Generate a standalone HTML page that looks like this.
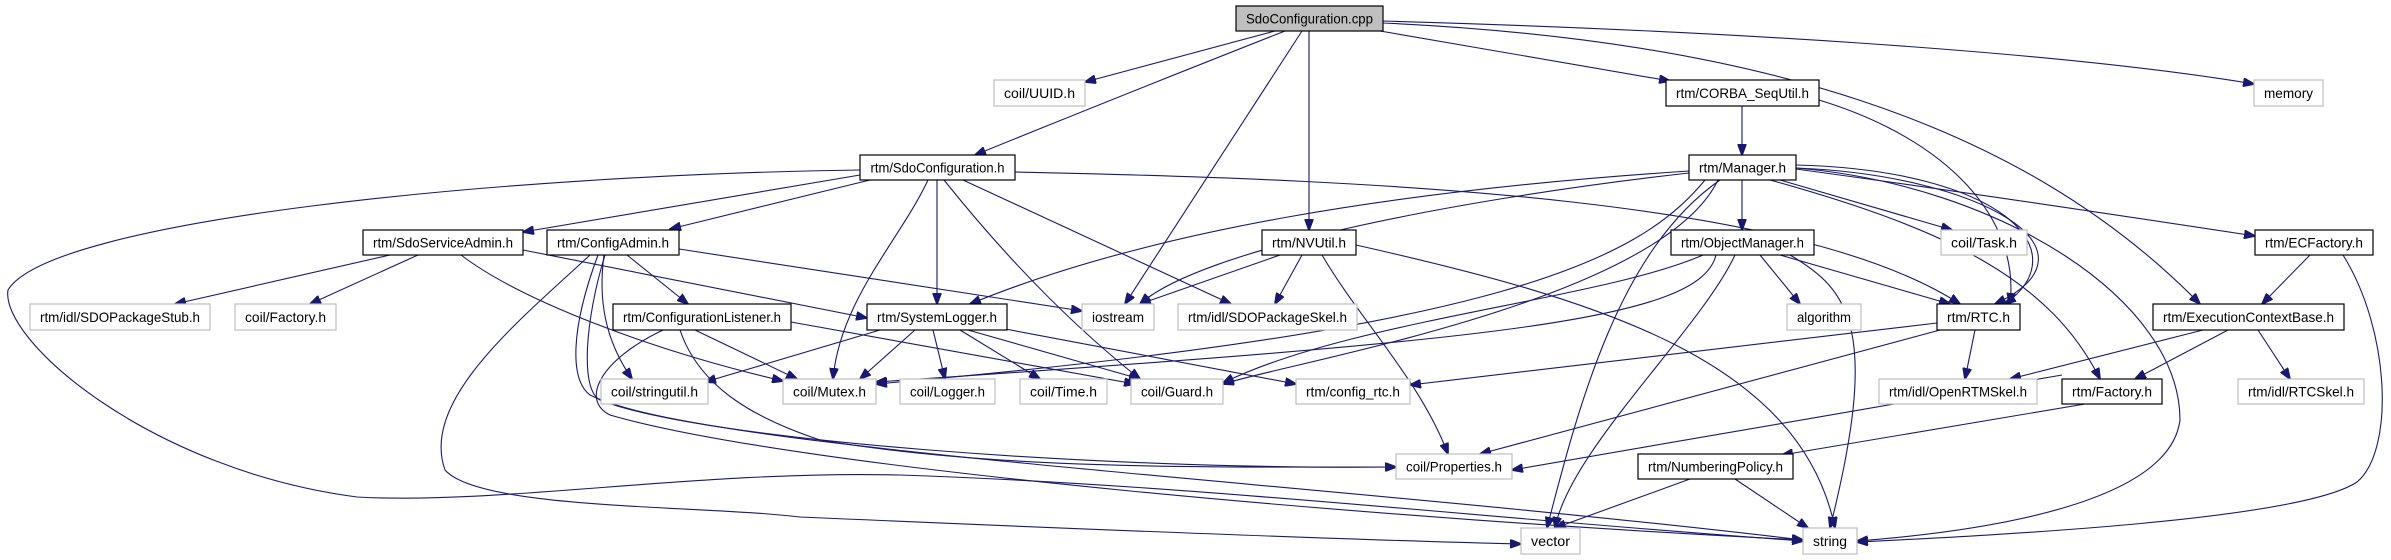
<!DOCTYPE html>
<html><head><meta charset="utf-8"><style>
html,body{margin:0;padding:0;background:#fff}
svg{display:block}
text{font-family:"Liberation Sans",sans-serif;font-size:14px;fill:#000}
.n rect{fill:#fff;stroke:#000;stroke-width:1.2}
.g rect{fill:#fff;stroke:#bfbfbf;stroke-width:1.2}
.e path{fill:none;stroke:#191970;stroke-width:1.1;marker-end:url(#ah)}
</style></head><body>
<svg width="2391" height="560" viewBox="0 0 2391 560" xmlns="http://www.w3.org/2000/svg">
<defs><marker id="ah" markerUnits="userSpaceOnUse" markerWidth="12" markerHeight="9" refX="11" refY="4.5" orient="auto"><path d="M0,0 L12,4.5 L0,9 z" fill="#191970" stroke="#191970"/></marker></defs>
<g class="e">
<path d="M1275,31 L1085,82"/>
<path d="M1285,31 Q1110,100 975,155"/>
<path d="M1302,31 L1125,304"/>
<path d="M1309,31 L1309,230"/>
<path d="M1380,31 L1670,81"/>
<path d="M1383,21 C1700,30 2050,50 2254,84"/>
<path d="M1383,23 C1750,40 2020,120 2200,304"/>
<path d="M860,175 L523,232"/>
<path d="M870,180 L670,229"/>
<path d="M860,170 C500,175 50,220 8,290 C0,340 150,470 357,497 C500,505 700,470 900,475 C1200,485 1500,520 1803,541"/>
<path d="M1015,172 C1400,180 1800,200 1960,304"/>
<path d="M937,180 L937,304"/>
<path d="M928,180 C900,240 840,300 833,379"/>
<path d="M944,180 Q1040,300 1140,379"/>
<path d="M963,180 L1231,304"/>
<path d="M390,255 L175,304"/>
<path d="M418,255 L310,304"/>
<path d="M461,255 C520,300 650,350 783,381"/>
<path d="M523,250 L867,318"/>
<path d="M627,255 L688,304"/>
<path d="M604,255 C598,300 605,340 632,379"/>
<path d="M679,249 L1082,311"/>
<path d="M590,255 C520,320 420,400 445,470 C480,510 700,505 800,517 C1100,530 1350,540 1521,544"/>
<path d="M598,255 C570,330 570,380 590,395 C700,450 1300,480 1803,540"/>
<path d="M605,255 C585,320 580,390 600,400 C700,440 1100,470 1396,467"/>
<path d="M695,330 L797,379"/>
<path d="M791,322 L1135,384"/>
<path d="M680,330 C700,390 760,420 820,440 C1000,470 1200,467 1396,467"/>
<path d="M663,330 C600,360 580,400 610,415 C800,470 1400,520 1803,540"/>
<path d="M880,330 L705,382"/>
<path d="M915,330 L860,379"/>
<path d="M933,330 L945,379"/>
<path d="M960,330 L1040,379"/>
<path d="M968,330 L1140,379"/>
<path d="M1000,328 L1296,384"/>
<path d="M1280,255 L1140,304"/>
<path d="M1302,255 L1275,304"/>
<path d="M1322,255 C1360,320 1420,380 1448,454"/>
<path d="M1356,245 C1600,300 1800,360 1835,528"/>
<path d="M1742,106 L1742,155"/>
<path d="M1819,100 C1950,140 2020,220 2010,304"/>
<path d="M1689,171 C1400,190 1150,230 970,304"/>
<path d="M1689,173 C1450,200 1200,250 1140,304"/>
<path d="M1705,180 C1640,260 1500,330 876,384"/>
<path d="M1718,180 C1660,300 1300,360 1223,384"/>
<path d="M1742,180 L1742,230"/>
<path d="M1780,180 L1952,230"/>
<path d="M1796,169 C1950,190 2150,220 2255,236"/>
<path d="M1796,165 C2000,170 2080,250 2005,304"/>
<path d="M1796,168 C1980,175 2110,250 1995,304"/>
<path d="M1770,180 C1950,230 2050,280 2100,379"/>
<path d="M1720,180 C1620,250 1580,400 1547,528"/>
<path d="M1796,168 C2000,185 2180,300 2180,420 C2170,500 2000,530 1857,541"/>
<path d="M2343,255 C2390,330 2395,450 2357,482 C2300,520 2000,535 1857,542"/>
<path d="M2310,255 L2262,304"/>
<path d="M2203,330 L2010,379"/>
<path d="M2228,330 L2135,379"/>
<path d="M2258,330 L2290,379"/>
<path d="M1975,330 L1965,379"/>
<path d="M1937,323 L1410,385"/>
<path d="M1940,330 L1480,454"/>
<path d="M2062,375 L1512,470"/>
<path d="M2085,404 L1782,455"/>
<path d="M1690,479 L1555,528"/>
<path d="M1735,479 L1808,528"/>
<path d="M1716,255 C1700,320 1500,340 876,382"/>
<path d="M1703,255 C1600,300 1350,320 1223,383"/>
<path d="M1760,255 L1800,304"/>
<path d="M1780,255 L1950,304"/>
<path d="M1735,255 C1700,330 1570,450 1555,528"/>
<path d="M1790,255 C1850,290 1880,330 1830,528"/>
</g>
<g class="n"><rect x="1236" y="6" width="147" height="25" style="fill:#bfbfbf"/><text x="1309.5" y="23.5" text-anchor="middle" textLength="127" lengthAdjust="spacingAndGlyphs">SdoConfiguration.cpp</text></g>
<g class="g"><rect x="994" y="80" width="91" height="26"/><text x="1039.5" y="98" text-anchor="middle" textLength="71" lengthAdjust="spacingAndGlyphs">coil/UUID.h</text></g>
<g class="n"><rect x="860" y="155" width="155" height="25"/><text x="937.5" y="172.5" text-anchor="middle" textLength="134" lengthAdjust="spacingAndGlyphs">rtm/SdoConfiguration.h</text></g>
<g class="n"><rect x="1262" y="230" width="94" height="25"/><text x="1309" y="247.5" text-anchor="middle" textLength="74" lengthAdjust="spacingAndGlyphs">rtm/NVUtil.h</text></g>
<g class="n"><rect x="1666" y="80" width="153" height="26"/><text x="1742.5" y="98" text-anchor="middle" textLength="133" lengthAdjust="spacingAndGlyphs">rtm/CORBA_SeqUtil.h</text></g>
<g class="g"><rect x="2254" y="80" width="69" height="26"/><text x="2288.5" y="98" text-anchor="middle" textLength="49" lengthAdjust="spacingAndGlyphs">memory</text></g>
<g class="n"><rect x="1689" y="155" width="107" height="25"/><text x="1742.5" y="172.5" text-anchor="middle" textLength="87" lengthAdjust="spacingAndGlyphs">rtm/Manager.h</text></g>
<g class="n"><rect x="1671" y="230" width="143" height="25"/><text x="1742.5" y="247.5" text-anchor="middle" textLength="123" lengthAdjust="spacingAndGlyphs">rtm/ObjectManager.h</text></g>
<g class="g"><rect x="1941" y="230" width="86" height="25"/><text x="1984" y="247.5" text-anchor="middle" textLength="66" lengthAdjust="spacingAndGlyphs">coil/Task.h</text></g>
<g class="n"><rect x="2255" y="230" width="118" height="25"/><text x="2314" y="247.5" text-anchor="middle" textLength="98" lengthAdjust="spacingAndGlyphs">rtm/ECFactory.h</text></g>
<g class="n"><rect x="363" y="230" width="160" height="25"/><text x="443" y="247.5" text-anchor="middle" textLength="140" lengthAdjust="spacingAndGlyphs">rtm/SdoServiceAdmin.h</text></g>
<g class="n"><rect x="547" y="230" width="132" height="25"/><text x="613" y="247.5" text-anchor="middle" textLength="112" lengthAdjust="spacingAndGlyphs">rtm/ConfigAdmin.h</text></g>
<g class="g"><rect x="30" y="304" width="180" height="26"/><text x="120" y="322" text-anchor="middle" textLength="160" lengthAdjust="spacingAndGlyphs">rtm/idl/SDOPackageStub.h</text></g>
<g class="g"><rect x="235" y="304" width="101" height="26"/><text x="285.5" y="322" text-anchor="middle" textLength="81" lengthAdjust="spacingAndGlyphs">coil/Factory.h</text></g>
<g class="n"><rect x="613" y="304" width="178" height="26"/><text x="702" y="322" text-anchor="middle" textLength="158" lengthAdjust="spacingAndGlyphs">rtm/ConfigurationListener.h</text></g>
<g class="n"><rect x="867" y="304" width="140" height="26"/><text x="937" y="322" text-anchor="middle" textLength="120" lengthAdjust="spacingAndGlyphs">rtm/SystemLogger.h</text></g>
<g class="g"><rect x="1082" y="304" width="72" height="26"/><text x="1118" y="322" text-anchor="middle" textLength="52" lengthAdjust="spacingAndGlyphs">iostream</text></g>
<g class="g"><rect x="1178" y="304" width="179" height="26"/><text x="1267.5" y="322" text-anchor="middle" textLength="159" lengthAdjust="spacingAndGlyphs">rtm/idl/SDOPackageSkel.h</text></g>
<g class="g"><rect x="1787" y="304" width="74" height="26"/><text x="1824" y="322" text-anchor="middle" textLength="54" lengthAdjust="spacingAndGlyphs">algorithm</text></g>
<g class="n"><rect x="1937" y="304" width="83" height="26"/><text x="1978.5" y="322" text-anchor="middle" textLength="63" lengthAdjust="spacingAndGlyphs">rtm/RTC.h</text></g>
<g class="n"><rect x="2153" y="304" width="191" height="26"/><text x="2248.5" y="322" text-anchor="middle" textLength="171" lengthAdjust="spacingAndGlyphs">rtm/ExecutionContextBase.h</text></g>
<g class="g"><rect x="601" y="379" width="107" height="25"/><text x="654.5" y="396.5" text-anchor="middle" textLength="87" lengthAdjust="spacingAndGlyphs">coil/stringutil.h</text></g>
<g class="g"><rect x="783" y="379" width="93" height="25"/><text x="829.5" y="396.5" text-anchor="middle" textLength="73" lengthAdjust="spacingAndGlyphs">coil/Mutex.h</text></g>
<g class="g"><rect x="900" y="379" width="95" height="25"/><text x="947.5" y="396.5" text-anchor="middle" textLength="75" lengthAdjust="spacingAndGlyphs">coil/Logger.h</text></g>
<g class="g"><rect x="1020" y="379" width="87" height="25"/><text x="1063.5" y="396.5" text-anchor="middle" textLength="67" lengthAdjust="spacingAndGlyphs">coil/Time.h</text></g>
<g class="g"><rect x="1131" y="379" width="92" height="25"/><text x="1177" y="396.5" text-anchor="middle" textLength="72" lengthAdjust="spacingAndGlyphs">coil/Guard.h</text></g>
<g class="g"><rect x="1296" y="379" width="114" height="25"/><text x="1353" y="396.5" text-anchor="middle" textLength="94" lengthAdjust="spacingAndGlyphs">rtm/config_rtc.h</text></g>
<g class="g"><rect x="1879" y="379" width="158" height="25"/><text x="1958" y="396.5" text-anchor="middle" textLength="138" lengthAdjust="spacingAndGlyphs">rtm/idl/OpenRTMSkel.h</text></g>
<g class="n"><rect x="2062" y="379" width="100" height="25"/><text x="2112" y="396.5" text-anchor="middle" textLength="80" lengthAdjust="spacingAndGlyphs">rtm/Factory.h</text></g>
<g class="g"><rect x="2238" y="379" width="126" height="25"/><text x="2301" y="396.5" text-anchor="middle" textLength="106" lengthAdjust="spacingAndGlyphs">rtm/idl/RTCSkel.h</text></g>
<g class="g"><rect x="1396" y="454" width="116" height="25"/><text x="1454" y="471.5" text-anchor="middle" textLength="96" lengthAdjust="spacingAndGlyphs">coil/Properties.h</text></g>
<g class="n"><rect x="1638" y="454" width="155" height="25"/><text x="1715.5" y="471.5" text-anchor="middle" textLength="135" lengthAdjust="spacingAndGlyphs">rtm/NumberingPolicy.h</text></g>
<g class="g"><rect x="1521" y="528" width="59" height="26"/><text x="1550.5" y="546" text-anchor="middle" textLength="39" lengthAdjust="spacingAndGlyphs">vector</text></g>
<g class="g"><rect x="1803" y="528" width="54" height="26"/><text x="1830" y="546" text-anchor="middle" textLength="34" lengthAdjust="spacingAndGlyphs">string</text></g>
</svg>
</body></html>
